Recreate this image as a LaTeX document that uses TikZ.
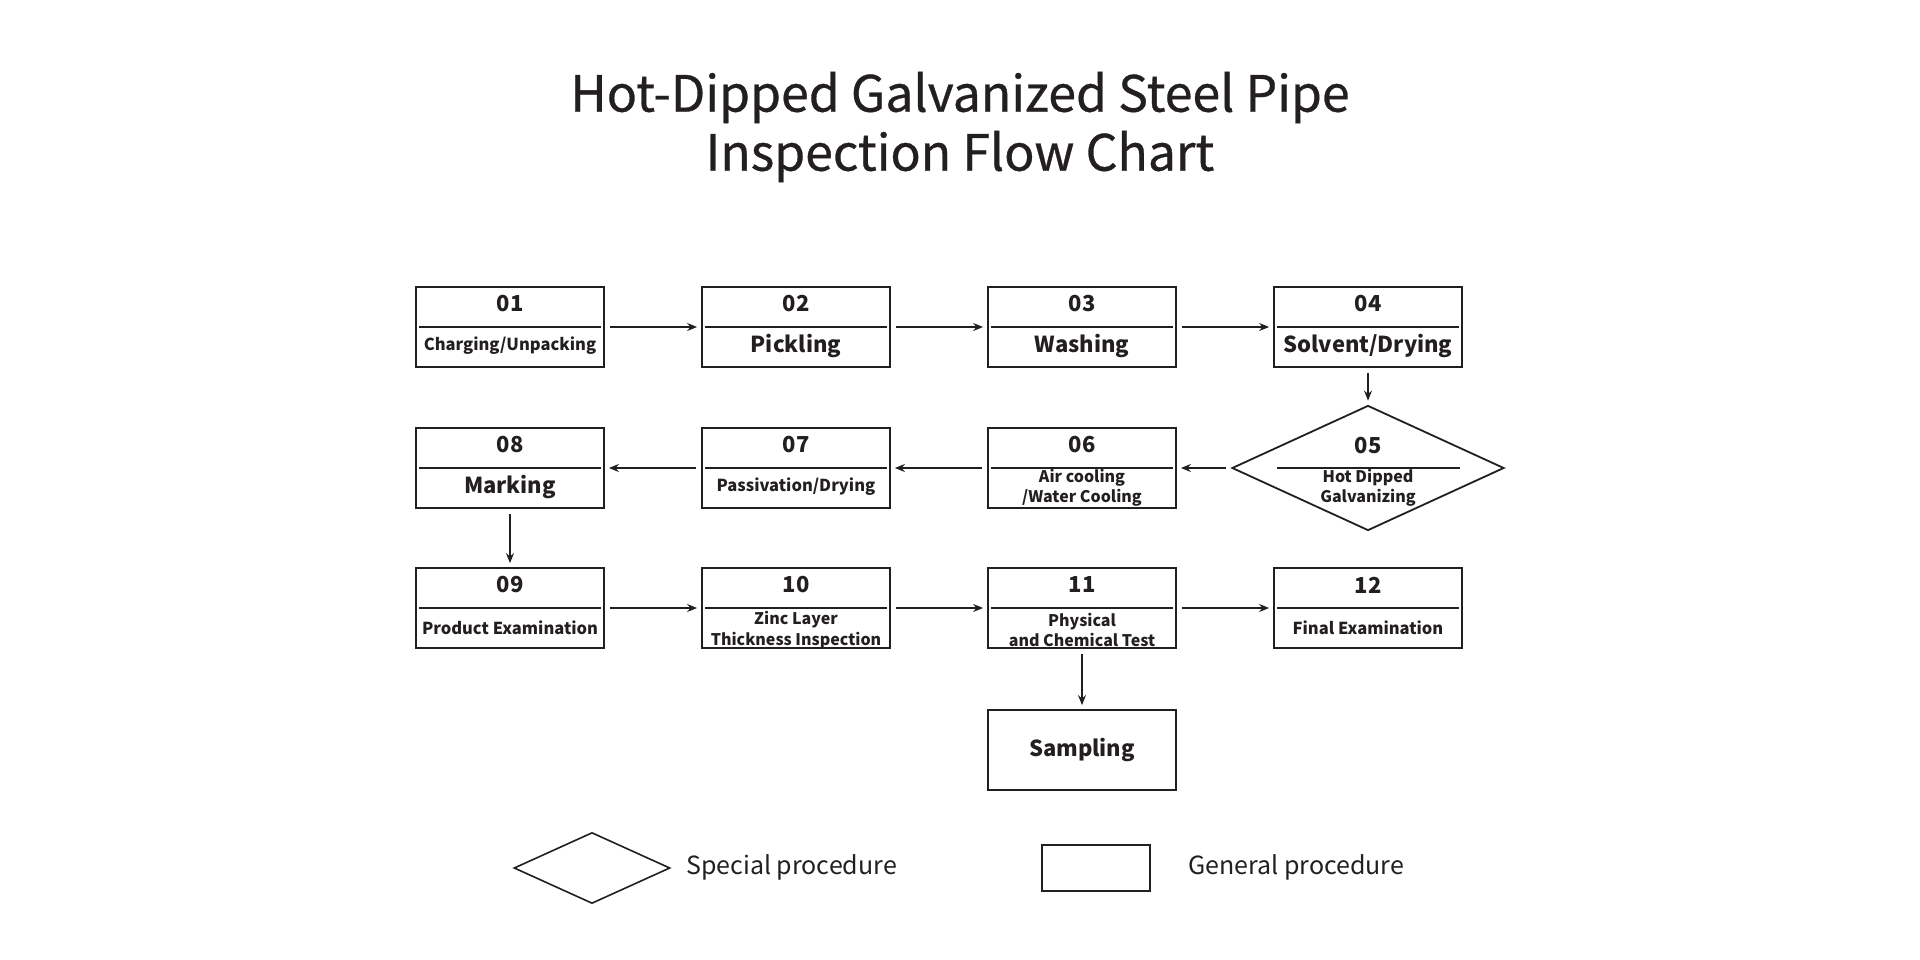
\documentclass[tikz,border=0pt]{standalone}
\usepackage{fontspec}
\setmainfont{Noto Sans CJK SC}
\usetikzlibrary{arrows.meta,shapes.geometric}
\definecolor{InkBlack}{HTML}{231F20}
\newcommand{\biglbl}{\bfseries\fontsize{22}{24}\selectfont}
\newcommand{\midlbl}{\bfseries\fontsize{16.5}{20}\selectfont}
\newcommand{\twolbl}{\bfseries\fontsize{16}{20.5}\selectfont}

\tikzset{
  stagebox/.style={draw=InkBlack,line width=1.8pt,minimum width=188pt,minimum height=80pt,inner sep=0pt},
  stagediamond/.style={draw=InkBlack,line width=1.8pt,diamond,aspect=2.18,minimum width=272pt,minimum height=125pt,inner sep=0pt},
  divider/.style={draw=InkBlack,line width=1.3pt},
  stagenum/.style={font=\bfseries\fontsize{22}{24}\selectfont,text=InkBlack,inner sep=0pt},
  stagelbl/.style={text=InkBlack,align=center,inner sep=0pt},
  flow/.style={-{Stealth[length=10pt,width=8pt]},line width=1.3pt,draw=InkBlack,shorten <=5pt,shorten >=4pt}
}

\begin{document}
\begin{tikzpicture}[x=1pt,y=-1pt]
  \useasboundingbox (0,0) rectangle (1920,960);
  % title
  \node[text=InkBlack,align=center,font=\addfontfeatures{FakeBold=0.6}\fontsize{50}{59}\selectfont] (title) at (960,127)
    {Hot-Dipped Galvanized Steel Pipe\\Inspection Flow Chart};
  % rectangular stages
  \foreach \id/\cx/\cy/\fnt/\dy/\lbl in {01/510/327/\midlbl/19/{Charging/Unpacking},
      02/796/327/\biglbl/19/Pickling,03/1082/327/\biglbl/19/Washing,
      04/1368/327/\biglbl/19/{Solvent/Drying},
      06/1082/468/\twolbl/20/{Air cooling\\/Water Cooling},
      07/796/468/\midlbl/19/{Passivation/Drying},08/510/468/\biglbl/19/Marking,
      09/510/608/\midlbl/20/{Product Examination},
      10/796/608/\twolbl/22/{Zinc Layer\\Thickness Inspection},
      11/1082/608/\twolbl/22/{Physical\\and Chemical Test},
      12/1368/608/\midlbl/20/{Final Examination}}{
    \node[stagebox] (s\id) at (\cx,\cy) {};
    \draw[divider] ([xshift=4pt]s\id.west) -- ([xshift=-4pt]s\id.east);
    \node[stagenum] (n\id) at ([yshift=23pt]s\id.center) {\id};
    \node[stagelbl,font=\fnt] (l\id) at ([yshift=-\dy pt]s\id.center) {\lbl};}
  % special stage
  \node[stagediamond] (s05) at (1368,468) {};
  \draw[divider] ([xshift=-91pt]s05.center) -- ([xshift=92pt]s05.center);
  \node[stagenum] (n05) at ([yshift=22pt]s05.center) {05};
  \node[stagelbl,font=\twolbl] (l05) at ([yshift=-20pt]s05.center) {Hot Dipped\\Galvanizing};
  \node[stagebox] (samp) at (1082,750) {};
  \node[stagelbl,font=\biglbl] (lsamp) at (samp.center) {Sampling};
  % connectors
  \draw[flow] (s01) -- (s02);
  \draw[flow] (s02) -- (s03);
  \draw[flow] (s03) -- (s04);
  \draw[flow] (s04) -- (s05);
  \draw[flow] (s05) -- (s06);
  \draw[flow] (s06) -- (s07);
  \draw[flow] (s07) -- (s08);
  \draw[flow] (s08) -- (s09);
  \draw[flow] (s09) -- (s10);
  \draw[flow] (s10) -- (s11);
  \draw[flow] (s11) -- (s12);
  \draw[flow] (s11) -- (samp);
  % legend
  \node[draw=InkBlack,line width=1.6pt,diamond,aspect=2.2,minimum width=156pt,minimum height=71pt,inner sep=0pt] (keyspecial) at (592,868) {};
  \node[text=InkBlack,anchor=west,font=\fontsize{25}{28}\selectfont,inner sep=0pt] (keyspecialtxt) at (686,867) {Special procedure};
  \node[draw=InkBlack,line width=1.6pt,minimum width=108pt,minimum height=46pt,inner sep=0pt] (keygeneral) at (1096,868) {};
  \node[text=InkBlack,anchor=west,font=\fontsize{25}{28}\selectfont,inner sep=0pt] (keygeneraltxt) at (1188,867) {General procedure};
\end{tikzpicture}
\end{document}
